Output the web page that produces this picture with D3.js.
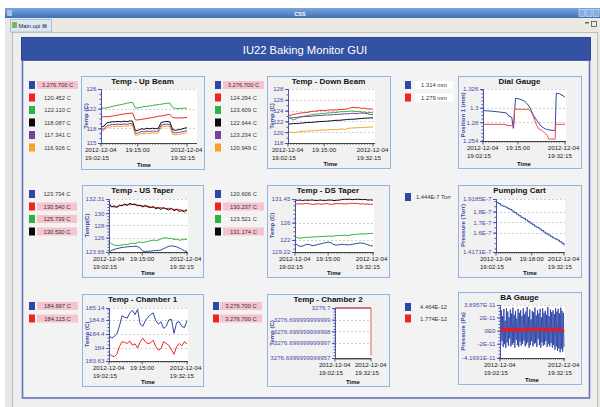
<!DOCTYPE html>
<html><head><meta charset="utf-8">
<script src="https://cdn.jsdelivr.net/npm/d3@7"></script>
<style>html,body{margin:0;padding:0;background:#fff;overflow:hidden}svg{display:block;font-family:"Liberation Sans",Arial,sans-serif}</style>
</head><body><svg id="c" width="600" height="407"></svg>
<script>
// ---------------- DATA ----------------
const minutes31 = [0,1,2,3,4,5,6,7,8,9,10,11,12,13,14,15,16,17,18,19,20,21,22,23,24,25,26,27,28,29,30];
const endPoints = [0,30];

// Temp - Up Beam
const upBeamTicks = [115,118,122,126];
const upBeamBlue = [3276.7,3276.7];
const upBeamRed = [120.3,120.35,120.35,120.4,120.5,120.6,120.7,120.8,120.9,121.0,121.05,121.1,119.7,119.7,119.8,119.9,120.0,120.1,120.2,120.3,120.45,120.5,120.6,120.75,120.85,120.2,120.1,120.1,120.1,120.15,120.2];
const upBeamGreen = [122.1,122.1,122.15,122.3,122.45,122.6,122.7,122.8,122.95,123.1,123.2,123.3,122.1,122.2,122.3,122.4,122.45,122.55,122.65,122.75,122.85,122.9,123.0,123.1,123.15,122.2,122.05,122.0,122.05,122.1,122.11];
const upBeamBlack = [118.3,118.4,119.1,119.2,119.35,119.3,119.4,119.3,119.45,119.35,119.5,119.45,117.5,117.6,117.9,117.8,118.0,117.9,118.0,117.9,118.0,119.2,119.3,119.4,119.3,117.7,117.6,117.7,117.8,118.0,118.1];
const upBeamPurple = [117.8,117.85,118.5,118.65,118.8,118.75,118.85,118.75,118.9,118.8,118.95,118.9,116.95,117.05,117.35,117.25,117.45,117.35,117.45,117.35,117.45,118.65,118.75,118.85,118.75,117.15,117.05,117.15,117.25,117.4,117.5];
const upBeamOrange = [117.4,117.5,118.1,118.25,118.4,118.35,118.45,118.35,118.5,118.4,118.55,118.5,116.55,116.65,116.95,116.85,117.05,116.95,117.05,116.95,117.05,118.25,118.35,118.45,118.35,116.75,116.65,116.75,116.85,117.0,117.1];
const upBeamLegend = ["3.276.700 C","120.452 C","122.110 C","118.087 C","117.341 C","116.926 C"];
const upBeamAlarm = [true,false,false,false,false,false];

// Temp - Down Beam
const downBeamTicks = [118,120,122,124,126,128];
const downBeamBlue = [3276.7,3276.7];
const downBeamRed = [123.2,123.1,123.3,123.4,123.5,123.6,123.6,123.7,123.8,123.9,123.9,124.0,124.05,124.0,124.1,124.1,124.15,124.1,124.2,124.2,124.25,124.3,124.5,124.6,124.5,124.55,124.4,124.45,124.3,124.3,124.29];
const downBeamGreen = [122.9,122.5,122.3,122.5,122.8,122.9,123.0,123.1,123.2,123.3,123.35,123.4,123.5,123.45,123.6,123.55,123.7,123.65,123.75,123.8,123.8,123.85,123.9,123.95,123.8,123.9,123.7,123.75,123.6,123.65,123.61];
const downBeamBlack = [121.5,121.55,121.6,121.6,121.65,121.7,121.75,121.8,121.8,121.85,121.9,121.95,122.0,122.0,122.05,122.1,122.15,122.2,122.2,122.25,122.3,122.35,122.4,122.4,122.45,122.5,122.55,122.6,122.6,122.65,122.64];
const downBeamPurple = [122.6,122.65,122.7,122.75,122.8,122.85,122.9,122.9,122.95,123.0,123.05,123.1,123.1,123.15,123.2,123.2,123.25,123.3,123.3,123.35,123.4,123.4,123.45,123.5,123.45,123.5,123.55,123.5,123.4,123.3,123.23];
const downBeamOrange = [120.1,120.0,119.9,120.0,120.1,120.15,120.2,120.2,120.25,120.3,120.3,120.35,120.4,120.4,120.45,120.5,120.5,120.45,120.55,120.6,120.5,120.7,120.75,120.8,120.8,120.85,120.85,120.9,120.9,120.95,120.95];
const downBeamLegend = ["3.276.700 C","124.294 C","123.609 C","122.644 C","123.234 C","120.949 C"];
const downBeamAlarm = [true,false,false,false,false,false];

// Dial Gauge
const dialTicks = [1.254,1.28,1.3,1.326];
const dialTickLabels = ["1.254","1.28","1.3","1.326"];
const dialBlueTimes = [0,4,8.5,9.5,10.5,11.1,11.9,13.5,15,16,17,18.4,19.6,20.9,22,23.3,25.8,26.4,26.8,28,29.5,30];
const dialBlue = [1.2962,1.2950,1.2930,1.2885,1.2870,1.2715,1.3131,1.3120,1.3095,1.3062,1.3015,1.2900,1.2830,1.2760,1.2725,1.2700,1.2683,1.2690,1.3200,1.3195,1.3160,1.3145];
const dialRedTimes = [0,8.5,8.6,11.3,11.5,16.5,17.6,18.2,19,19.6,20.3,21.5,22.5,23.5,24,26.4,26.6,30];
const dialRed = [1.2771,1.2771,1.2755,1.2755,1.2979,1.2979,1.2950,1.2900,1.2820,1.2760,1.2710,1.2690,1.2650,1.2620,1.2567,1.2567,1.2771,1.2771];
const dialLegend = ["1.314 mm","1.279 mm"];

// Temp - US Taper
const usTaperTicks = [123.66,126,128,130,132.31];
const usTaperBlue = [123.7,123.9,124.1,124.2,124.3,124.4,124.45,124.5,124.55,124.55,124.6,124.55,124.3,123.8,123.75,123.8,123.8,123.85,123.9,123.9,124.0,124.2,124.4,124.6,124.65,124.6,124.5,124.3,124.1,123.85,123.73];
const usTaperRed = [131.3,131.1,131.0,131.1,131.2,131.3,131.35,131.3,131.4,131.45,131.35,131.3,131.2,131.2,131.1,131.15,131.0,130.9,130.95,130.85,130.9,130.8,130.75,130.8,130.7,130.6,130.65,130.6,130.5,130.45,130.54];
const usTaperGreen = [125.4,125.0,124.8,124.7,124.75,124.8,124.9,124.85,125.0,125.1,125.05,125.2,125.3,125.2,125.3,125.4,125.5,125.6,125.55,125.6,125.8,125.95,126.0,125.85,125.9,125.7,125.75,125.6,125.65,125.7,125.74];
const usTaperBlack = [131.6,131.0,131.2,130.9,131.3,131.2,131.5,131.3,131.6,131.4,131.5,131.2,131.3,131.0,131.3,131.0,130.9,131.1,130.7,130.9,130.6,130.9,130.7,130.5,130.8,130.4,130.6,130.3,130.4,130.2,130.53];
const usTaperLegend = ["123.734 C","130.540 C","125.739 C","130.530 C"];
const usTaperAlarm = [false,true,true,true];

// Temp - DS Taper
const dsTaperTicks = [119.22,122,126,131.45];
const dsTaperBlue = [121.2,120.8,120.5,120.6,120.9,121.0,120.8,120.7,120.8,121.0,121.1,121.3,121.4,121.5,121.3,120.9,120.8,120.9,121.0,120.95,120.9,120.85,121.0,121.1,121.2,121.3,121.25,121.1,120.9,120.7,120.6];
const dsTaperRed = [130.4,130.3,130.35,130.3,130.4,130.35,130.3,130.2,130.3,130.35,130.25,130.3,130.4,130.3,130.2,130.3,130.4,130.35,130.4,130.3,130.35,130.4,130.5,130.4,130.45,130.3,130.35,130.25,130.3,130.2,130.24];
const dsTaperGreen = [122.8,122.5,122.4,122.5,122.6,122.6,122.65,122.7,122.7,122.75,122.8,122.8,122.85,122.9,122.85,122.9,123.0,123.0,123.05,123.1,123.0,123.1,123.2,123.3,123.3,123.4,123.35,123.4,123.45,123.5,123.52];
const dsTaperBlack = [131.2,131.15,131.2,131.1,131.2,131.15,131.2,131.2,131.1,131.15,131.2,131.1,131.15,131.2,131.2,131.1,131.15,131.2,131.3,131.4,131.35,131.4,131.3,131.35,131.4,131.35,131.3,131.35,131.2,131.25,131.17];
const dsTaperLegend = ["120.606 C","130.237 C","123.521 C","131.174 C"];
const dsTaperAlarm = [false,true,false,true];

// Pumping Cart (values in 1E-7 Torr)
const pumpTicks = [1.4171,1.6,1.7,1.8,1.9185];
const pumpTickLabels = ["1.4171E-7","1.6E-7","1.7E-7","1.8E-7","1.9185E-7"];
const pumpBlue = [1.887,1.875,1.860,1.850,1.842,1.830,1.820,1.805,1.790,1.775,1.760,1.745,1.735,1.720,1.705,1.690,1.675,1.660,1.650,1.635,1.620,1.605,1.590,1.578,1.565,1.550,1.540,1.530,1.515,1.500,1.480];
const pumpLegend = ["1.444E-7 Torr"];

// Temp - Chamber 1
const ch1Ticks = [183.63,184,184.4,184.8,185.14];
const ch1Blue = [184.37,184.28,184.33,184.40,184.62,184.92,184.88,184.85,185.0,185.08,184.95,185.1,184.68,184.62,184.78,184.88,184.95,185.0,184.78,184.68,184.75,184.56,184.62,184.8,184.82,184.42,184.72,184.75,184.62,184.58,184.78];
const ch1Red = [183.85,183.78,183.75,183.82,184.04,184.18,184.16,184.13,184.2,184.08,184.12,184.0,184.18,184.28,184.18,184.12,184.15,184.22,184.04,183.94,183.98,184.18,184.13,184.08,183.95,183.82,184.04,184.13,184.06,184.18,184.12];
const ch1Legend = ["184.697 C","184.115 C"];
const ch1Alarm = [true,true];

// Temp - Chamber 2
const ch2TickOffsets = [-4.3,-3,-2,-1,0];
const ch2TickLabels = ["3276.6999999999957","3276.699999999997","3276.699999999998","3276.699999999999","3276.7"];
const ch2BlueTimes = [0,30];
const ch2Blue = [3276.7,3276.7];
const ch2RedTimes = [0,30,30];
const ch2Red = [3276.7,3276.7,3276.6999999999957];
const ch2Legend = ["3.276.700 C","3.276.700 C"];
const ch2Alarm = [true,true];

// BA Gauge (values in 1E-11 Pa)
const baTicks = [-4.1691,-2,0,2,3.8957];
const baTickLabels = ["-4.1691E-11","-2E-11","0E0","2E-11","3.8957E-11"];
const baBlue = [2.8,-2.2,3.1,-1.6,2.2,-2.5,3.3,-2.0,1.5,-2.6,3.4,-1.8,2.9,-2.3,2.0,-1.2,3.2,-2.4,2.6,-2.1,
3.5,-1.9,2.4,-2.6,3.0,-1.4,1.8,-2.2,3.3,-2.5,2.7,-1.7,3.1,-2.3,2.2,-2.0,3.4,-1.5,2.5,-2.4,
2.9,-2.1,3.6,-1.8,2.1,-2.6,3.2,-2.2,1.7,-1.6,3.0,-2.4,2.8,-2.0,3.5,-1.9,2.3,-2.5,3.1,-1.3,
2.6,-2.2,3.3,-2.6,2.0,-1.8,3.4,-2.3,2.7,-2.1,3.0,-1.6,2.4,-2.5,3.6,-2.0,2.2,-2.4,3.2,-1.9,
2.8,-2.6,3.1,-2.2,2.5,-2.9,3.4,-2.4,2.9,-3.1,3.3,-2.7,2.6,-3.3,3.5,-2.8,3.0,-3.2,2.7,-2.5];
const baRed = [0.1,0.25,-0.05,0.2,0.15,0.3,0.05,0.2,-0.1,0.15,0.25,0.1,0.2,0.0,0.15,0.3,0.1,0.2,0.05,0.25,0.15,0.1,0.2,0.3,0.05,0.15,0.2,0.1,0.25,0.0,0.15,0.2,0.1,0.3,0.15,0.05,0.2,0.25,0.1,0.18];
const baLegend = ["4.464E-12","1.774E-12"];

// ---------------- STYLE ----------------
const C = {blue:'#2d48a6', red:'#f02424', green:'#2fb23e', black:'#0a0a0a', purple:'#7c3f9e', orange:'#f8a12a'};
const T0 = new Date(2012, 11, 4, 19, 2, 15);
const T1 = new Date(2012, 11, 4, 19, 32, 15);
const toDate = m => new Date(T0.getTime() + m * 60000);
const evenTimes = n => d3.range(n).map(i => i * 30 / (n - 1));

const svg = d3.select('#c');
const defs = svg.append('defs');

// ---------------- WINDOW CHROME ----------------
svg.append('rect').attr('width',600).attr('height',407).attr('fill','#ffffff');
svg.append('rect').attr('x',5).attr('y',8).attr('width',595).attr('height',399).attr('fill','#e9e7e3');
const tg = defs.append('linearGradient').attr('id','tb').attr('x1',0).attr('y1',0).attr('x2',0).attr('y2',1);
tg.append('stop').attr('offset','0%').attr('stop-color','#7aa6dc');
tg.append('stop').attr('offset','100%').attr('stop-color','#3e70b8');
svg.append('rect').attr('x',5).attr('y',8).attr('width',595).attr('height',10).attr('fill','url(#tb)');
svg.append('rect').attr('x',7).attr('y',10).attr('width',5).attr('height',6).attr('fill','#a9c2e4');
svg.append('text').attr('x',300).attr('y',15.6).attr('text-anchor','middle').attr('font-size',5.5).attr('font-weight','bold').attr('fill','#fff').text('CSS');
[579,586,593].forEach(x=>svg.append('rect').attr('x',x).attr('y',9.5).attr('width',6).attr('height',7).attr('fill','#86aee0').attr('stroke','#d6e4f5').attr('stroke-width',0.6));
svg.append('rect').attr('x',5).attr('y',18).attr('width',595).attr('height',14).attr('fill','#ece9e3');
svg.append('rect').attr('x',10.5).attr('y',19.5).attr('width',41).attr('height',12.5).attr('fill','#dde8f5').attr('stroke','#9fb6d3').attr('stroke-width',0.8);
svg.append('rect').attr('x',12).attr('y',22).attr('width',5).attr('height',6).attr('fill','#7fb36a');
svg.append('text').attr('x',18.5).attr('y',28.3).attr('font-size',5.8).attr('fill','#222').text('Main.opi \u22A0');
svg.append('rect').attr('x',585).attr('y',22).attr('width',4).attr('height',1.5).attr('fill','#666');
svg.append('rect').attr('x',591.5).attr('y',21.5).attr('width',5).attr('height',5).attr('fill','none').attr('stroke','#555').attr('stroke-width',0.8);
svg.append('rect').attr('x',12.5).attr('y',32.5).attr('width',585).attr('height',380).attr('fill','#eeeeee').attr('stroke','#bdbdbd').attr('stroke-width',1);

// header + panel
svg.append('rect').attr('x',22.5).attr('y',60).attr('width',567).attr('height',338).attr('fill','#f3f3f3').attr('stroke','#6574be').attr('stroke-width',1.6);
svg.append('rect').attr('x',21.5).attr('y',37.5).attr('width',569).attr('height',22.5).attr('fill','#3352a3').attr('stroke','#2a4590').attr('stroke-width',1);
svg.append('text').attr('x',305).attr('y',53.8).attr('text-anchor','middle').attr('font-size',11.2).attr('fill','#fff').text('IU22 Baking Monitor GUI');

// ---------------- CHARTS ----------------
let clipId = 0;
function drawChart(cfg) {
  const g = svg.append('g');
  const [bx0,by0,bx1,by1] = cfg.box;
  const [px0,py0,px1,py1] = cfg.plot;
  g.append('rect').attr('x',bx0+0.5).attr('y',by0+0.5).attr('width',bx1-bx0).attr('height',by1-by0)
    .attr('fill','#f1f1f1').attr('stroke','#8fb6e2').attr('stroke-width',1);
  g.append('text').attr('x',(bx0+bx1)/2).attr('y',by0+8.3).attr('text-anchor','middle')
    .attr('font-size',8).attr('font-weight','bold').attr('fill','#111').text(cfg.title);

  const x = d3.scaleTime().domain([T0,T1]).range(cfg.xr);
  const yLin = d3.scaleLinear().domain(cfg.yDomain).range([py1,py0]);
  const acc = cfg.yAcc || (v => v);
  const y = v => yLin(acc(v));

  g.append('rect').attr('x',px0).attr('y',py0).attr('width',px1-px0).attr('height',py1-py0).attr('fill','#fff');
  // grid
  g.append('g').selectAll('line').data(cfg.yTicks).join('line')
    .attr('x1',px0).attr('x2',px1).attr('y1',d=>Math.round(yLin(d))+0.5).attr('y2',d=>Math.round(yLin(d))+0.5)
    .attr('stroke','#c4c4c4').attr('stroke-width',0.8).attr('stroke-dasharray','2,2');

  const id = 'clip' + (clipId++);
  defs.append('clipPath').attr('id',id).append('rect').attr('x',px0).attr('y',py0-1.5).attr('width',px1-px0+1).attr('height',py1-py0+2);
  const lines = g.append('g').attr('clip-path',`url(#${id})`);
  cfg.series.forEach(s => {
    const pts = s.values.map((v,i)=>[toDate(s.times[i]), v]);
    lines.append('path').datum(pts)
      .attr('d', d3.line().x(d=>x(d[0])).y(d=>y(d[1])).curve(s.curve || d3.curveLinear))
      .attr('fill','none').attr('stroke',s.color).attr('stroke-width',s.width || 1).attr('stroke-linejoin','round');
  });

  // y axis
  const yAxis = d3.axisLeft(yLin).tickValues(cfg.yTicks).tickFormat((d,i)=>cfg.yLabels[i]).tickSize(3).tickPadding(1.5);
  const ya = g.append('g').attr('transform',`translate(${px0},0)`).call(yAxis);
  ya.select('.domain').attr('stroke','#4a55a8');
  ya.selectAll('.tick line').attr('stroke','#4a55a8');
  ya.selectAll('.tick text').attr('font-size',6.2).attr('fill','#4c4ca6').attr('font-family','Liberation Sans');
  if (!cfg.noMinorY) {
    const minor = d3.ticks(cfg.yDomain[0], cfg.yDomain[1], 14);
    const ym = g.append('g').attr('transform',`translate(${px0},0)`).call(d3.axisLeft(yLin).tickValues(minor).tickFormat('').tickSize(1.5));
    ym.select('.domain').remove(); ym.selectAll('line').attr('stroke','#4a55a8');
  } else {
    const minor = d3.range(cfg.yDomain[0], cfg.yDomain[1], 0.25);
    const ym = g.append('g').attr('transform',`translate(${px0},0)`).call(d3.axisLeft(yLin).tickValues(minor).tickFormat('').tickSize(1.5));
    ym.select('.domain').remove(); ym.selectAll('line').attr('stroke','#4a55a8');
  }
  g.append('text').attr('transform',`translate(${bx0+7},${(py0+py1)/2}) rotate(-90)`).attr('text-anchor','middle')
    .attr('font-size',6).attr('font-weight','bold').attr('fill','#3c48a0').text(cfg.yTitle);

  // x axis
  g.append('line').attr('x1',px0).attr('x2',px1).attr('y1',py1+0.5).attr('y2',py1+0.5).attr('stroke','#444').attr('stroke-width',1);
  const minorX = d3.range(0,31,1).map(toDate);
  g.append('g').selectAll('line').data(minorX).join('line')
    .attr('x1',d=>x(d)).attr('x2',d=>x(d)).attr('y1',py1+0.5).attr('y2',py1+2).attr('stroke','#555').attr('stroke-width',0.6);
  const majors = [0,30].concat(cfg.midTick ? [cfg.midTick[0]] : []);
  g.append('g').selectAll('line').data(majors).join('line')
    .attr('x1',d=>x(toDate(d))).attr('x2',d=>x(toDate(d))).attr('y1',py1+0.5).attr('y2',py1+3.5).attr('stroke','#444').attr('stroke-width',0.8);
  const lbl1 = py1 + 8.8, lbl2 = py1 + 17;
  [[0,'19:02:15'],[30,'19:32:15']].forEach(([m,tstr]) => {
    const b = g.append('g');
    b.append('text').attr('x',0).attr('y',lbl1).attr('font-size',6.2).attr('fill','#222').text('2012-12-04');
    b.append('text').attr('x',0).attr('y',lbl2).attr('font-size',6.2).attr('fill','#222').text(tstr);
    const w = b.node().getBBox().width;
    let lx = x(toDate(m)) - w/2;
    lx = Math.max(bx0 + 2, Math.min(bx1 - 1 - w, lx));
    b.attr('transform',`translate(${lx},0)`);
  });
  if (cfg.midTick) {
    g.append('text').attr('x',x(toDate(cfg.midTick[0]))).attr('y',lbl1).attr('text-anchor','middle')
      .attr('font-size',6.2).attr('fill','#222').text(cfg.midTick[1]);
  }
  g.append('text').attr('x',(cfg.xr[0]+cfg.xr[1])/2).attr('y',by1-2.5).attr('text-anchor','middle')
    .attr('font-size',6).attr('font-weight','bold').attr('fill','#111').text('Time');

  // legend
  const L = cfg.legend;
  L.labels.forEach((txt,i) => {
    const cy = L.rows[i];
    svg.append('rect').attr('x',L.sx).attr('y',cy-4).attr('width',6).attr('height',8).attr('fill',L.colors[i]);
    const hl = L.alarm ? L.alarm[i] : false;
    if (hl) svg.append('rect').attr('x',L.bx[0]).attr('y',cy-4).attr('width',L.bx[1]-L.bx[0]).attr('height',8).attr('fill','#f6c4cf');
    else if (L.style==='white') svg.append('rect').attr('x',L.bx[0]).attr('y',cy-4).attr('width',L.bx[1]-L.bx[0]).attr('height',8).attr('fill','#ffffff');
    svg.append('text').attr('x',(L.bx[0]+L.bx[1])/2).attr('y',cy+2.1).attr('text-anchor','middle')
      .attr('font-size',5.8).attr('fill','#333').text(txt);
  });
}

const six = [C.blue,C.red,C.green,C.black,C.purple,C.orange];
const four = [C.blue,C.red,C.green,C.black];
const two = [C.blue,C.red];

const charts = [
  {title:'Temp - Up Beam', box:[81,76,204,169], plot:[101,89,197,143], xr:[101,187], yDomain:[115,126],
   yTicks:upBeamTicks, yLabels:upBeamTicks.map(String), yTitle:'Temp (C)', midTick:[12.75,'19:15:00'],
   series:[{times:endPoints,values:upBeamBlue,color:C.blue},{times:minutes31,values:upBeamRed,color:C.red},{times:minutes31,values:upBeamGreen,color:C.green},{times:minutes31,values:upBeamBlack,color:C.black},{times:minutes31,values:upBeamPurple,color:C.purple},{times:minutes31,values:upBeamOrange,color:C.orange}],
   legend:{sx:29,bx:[37,78],rows:[85,97.5,110,122.5,135,147.5],labels:upBeamLegend,alarm:upBeamAlarm,colors:six}},
  {title:'Temp - Down Beam', box:[267,76,390,168], plot:[288,89,375,143], xr:[288,373], yDomain:[118,128],
   yTicks:downBeamTicks, yLabels:downBeamTicks.map(String), yTitle:'Temp (C)', midTick:[12.75,'19:15:00'],
   series:[{times:endPoints,values:downBeamBlue,color:C.blue},{times:minutes31,values:downBeamRed,color:C.red},{times:minutes31,values:downBeamGreen,color:C.green},{times:minutes31,values:downBeamBlack,color:C.black},{times:minutes31,values:downBeamPurple,color:C.purple},{times:minutes31,values:downBeamOrange,color:C.orange}],
   legend:{sx:215,bx:[223,264],rows:[85,97.5,110,122.5,135,147.5],labels:downBeamLegend,alarm:downBeamAlarm,colors:six}},
  {title:'Dial Gauge', box:[458,76,581,168], plot:[483,89,566,141], xr:[483,565], yDomain:[1.254,1.326],
   yTicks:dialTicks, yLabels:dialTickLabels, yTitle:'Position 1 (mm)', midTick:[12.75,'19:15:00'],
   series:[{times:dialBlueTimes,values:dialBlue,color:C.blue},{times:dialRedTimes,values:dialRed,color:'#f24a4a'}],
   legend:{sx:405,bx:[415,453],rows:[85,97.5],labels:dialLegend,style:'white',colors:two}},
  {title:'Temp - US Taper', box:[82,185,203,277], plot:[109,199,188,252], xr:[109,187], yDomain:[123.66,132.31],
   yTicks:usTaperTicks, yLabels:usTaperTicks.map(String), yTitle:'Temp(C)', midTick:[12.75,'19:15:00'],
   series:[{times:minutes31,values:usTaperBlue,color:C.blue},{times:minutes31,values:usTaperRed,color:C.red},{times:minutes31,values:usTaperGreen,color:C.green},{times:minutes31,values:usTaperBlack,color:C.black}],
   legend:{sx:29,bx:[37,77],rows:[194,206.5,219,231.5],labels:usTaperLegend,alarm:usTaperAlarm,colors:four}},
  {title:'Temp - DS Taper', box:[267,185,389,277], plot:[295,199,374,252], xr:[295,373], yDomain:[119.22,131.45],
   yTicks:dsTaperTicks, yLabels:dsTaperTicks.map(String), yTitle:'Temp (C)', midTick:[12.75,'19:15:00'],
   series:[{times:minutes31,values:dsTaperBlue,color:C.blue},{times:minutes31,values:dsTaperRed,color:C.red},{times:minutes31,values:dsTaperGreen,color:C.green},{times:minutes31,values:dsTaperBlack,color:C.black}],
   legend:{sx:215,bx:[223,264],rows:[194,206.5,219,231.5],labels:dsTaperLegend,alarm:dsTaperAlarm,colors:four}},
  {title:'Pumping Cart', box:[458,185,581,277], plot:[496,199,565,252], xr:[496,564], yDomain:[1.4171,1.9185],
   yTicks:pumpTicks, yLabels:pumpTickLabels, yTitle:'Pressure (Torr)', midTick:[15.75,'19:18:00'],
   series:[{times:minutes31,values:pumpBlue,color:C.blue,curve:d3.curveStepAfter}],
   legend:{sx:405,bx:[413,454],rows:[197],labels:pumpLegend,colors:[C.blue]}},
  {title:'Temp - Chamber 1', box:[82,294,203,386], plot:[109,308,188,361], xr:[109,187], yDomain:[183.63,185.14],
   yTicks:ch1Ticks, yLabels:ch1Ticks.map(String), yTitle:'Temp (C)', midTick:[12.75,'19:15:00'],
   series:[{times:minutes31,values:ch1Blue,color:C.blue},{times:minutes31,values:ch1Red,color:C.red}],
   legend:{sx:29,bx:[37,78],rows:[306,318.5],labels:ch1Legend,alarm:ch1Alarm,colors:two}},
  {title:'Temp - Chamber 2', box:[267,294,389,386], plot:[335,308,371,358], xr:[335,371], yDomain:[-4.3,0],
   yAcc: v => (v - 3276.7) * 1e12, noMinorY:true,
   yTicks:ch2TickOffsets, yLabels:ch2TickLabels, yTitle:'Temp (C)', midTick:null,
   series:[{times:ch2BlueTimes,values:ch2Blue,color:C.blue},{times:ch2RedTimes,values:ch2Red,color:'#f05a5a'}],
   legend:{sx:213,bx:[220,262],rows:[306,318.5],labels:ch2Legend,alarm:ch2Alarm,colors:two}},
  {title:'BA Gauge', box:[458,292,581,384], plot:[500,305,565,358], xr:[500,564], yDomain:[-4.1691,3.8957],
   yTicks:baTicks, yLabels:baTickLabels, yTitle:'Pressure (Pa)', midTick:null,
   series:[{times:evenTimes(baBlue.length),values:baBlue,color:'#2e46a8',width:0.9},{times:evenTimes(baRed.length),values:baRed,color:'#f01818',width:2.6}],
   legend:{sx:405,bx:[413,454],rows:[307,318.5],labels:baLegend,colors:two}}
];
charts.forEach(drawChart);
</script></body></html>
